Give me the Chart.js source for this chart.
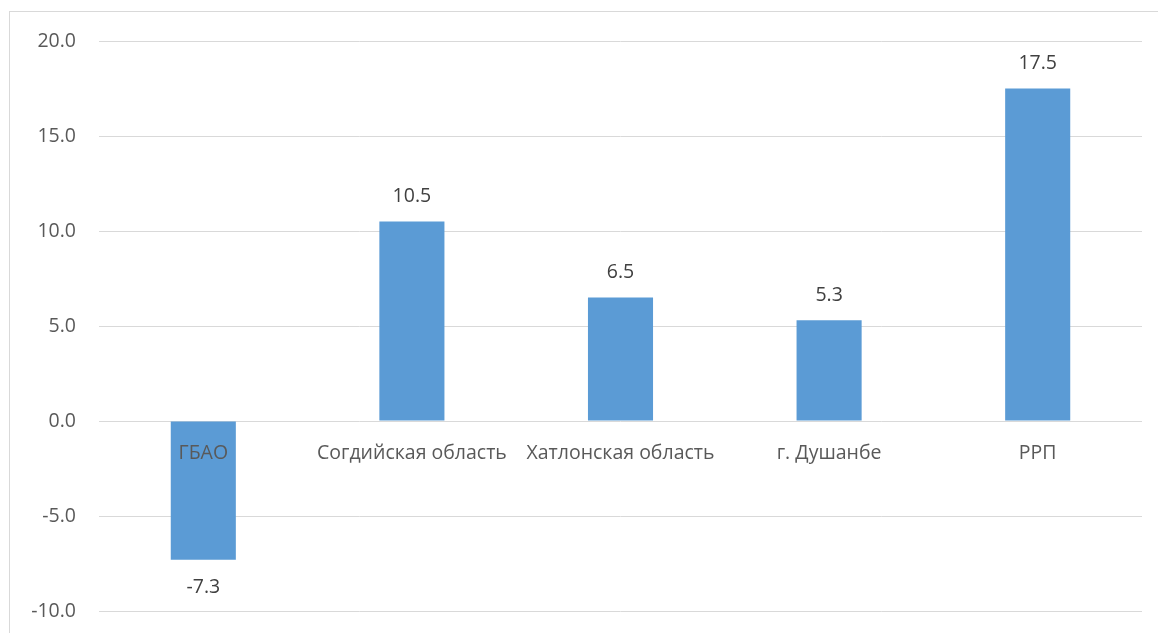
<!DOCTYPE html>
<html>
<head>
<meta charset="utf-8">
<script src="https://cdn.jsdelivr.net/npm/chart.js@4.4.0/dist/chart.umd.min.js"></script>
<style>
  html, body { margin: 0; padding: 0; background: #fff; overflow: hidden; }
  #wrap { position: relative; width: 1158px; height: 633px; }
  #frame { position: absolute; left: 9px; top: 11px; width: 1200px; height: 700px; border: 1px solid #d9d9d9; box-sizing: border-box; }
  canvas { position: absolute; left: 0; top: 0; }
</style>
</head>
<body>
<div id="wrap">
  <div id="frame"></div>
  <canvas id="c" width="1158" height="633"></canvas>
</div>
<script>
const categories = ['ГБАО', 'Согдийская область', 'Хатлонская область', 'г. Душанбе', 'РРП'];
const values = [-7.3, 10.5, 6.5, 5.3, 17.5];
const yTicks = [-10, -5, 0, 5, 10, 15, 20];

const FONT = '"Open Sans", "Noto Sans", sans-serif';
const FONT_SIZE = 19.5;

const valueLabels = {
  id: 'valueLabels',
  afterDatasetsDraw(chart) {
    const ctx = chart.ctx;
    const meta = chart.getDatasetMeta(0);
    ctx.save();
    ctx.font = FONT_SIZE + 'px ' + FONT;
    ctx.fillStyle = '#404040';
    ctx.textAlign = 'center';
    ctx.textBaseline = 'middle';
    meta.data.forEach((el, i) => {
      const v = chart.data.datasets[0].data[i];
      const y = v >= 0 ? el.y - 25 : el.y + 28;
      ctx.fillText(v.toFixed(1), el.x, y);
    });
    ctx.restore();
  }
};

new Chart(document.getElementById('c'), {
  type: 'bar',
  data: {
    labels: categories,
    datasets: [{
      data: values,
      backgroundColor: '#5B9BD5',
      borderWidth: 0,
      categoryPercentage: 1,
      barPercentage: 0.312
    }]
  },
  options: {
    responsive: false,
    animation: false,
    devicePixelRatio: 1,
    layout: { padding: { left: 0, right: 16, top: 41, bottom: 22 } },
    plugins: { legend: { display: false }, tooltip: { enabled: false } },
    scales: {
      x: {
        position: { y: 0 },
        afterFit(scale) { scale.height = 0; },
        grid: { display: false, drawTicks: false },
        border: { display: false },
        ticks: { z: 1, color: '#595959', font: { family: FONT, size: FONT_SIZE }, padding: 21, maxRotation: 0, autoSkip: false }
      },
      y: {
        min: -10, max: 20,
        afterFit(scale) { scale.width = 99; scale.paddingTop = 0; scale.paddingBottom = 0; },
        afterBuildTicks(scale) { scale.ticks = yTicks.map(v => ({ value: v })); },
        grid: { color: '#d9d9d9', lineWidth: 1, drawTicks: false },
        border: { display: false },
        ticks: {
          color: '#595959', font: { family: FONT, size: FONT_SIZE }, padding: 23,
          callback: v => Number(v).toFixed(1)
        }
      }
    }
  },
  plugins: [valueLabels]
});
</script>
</body>
</html>
